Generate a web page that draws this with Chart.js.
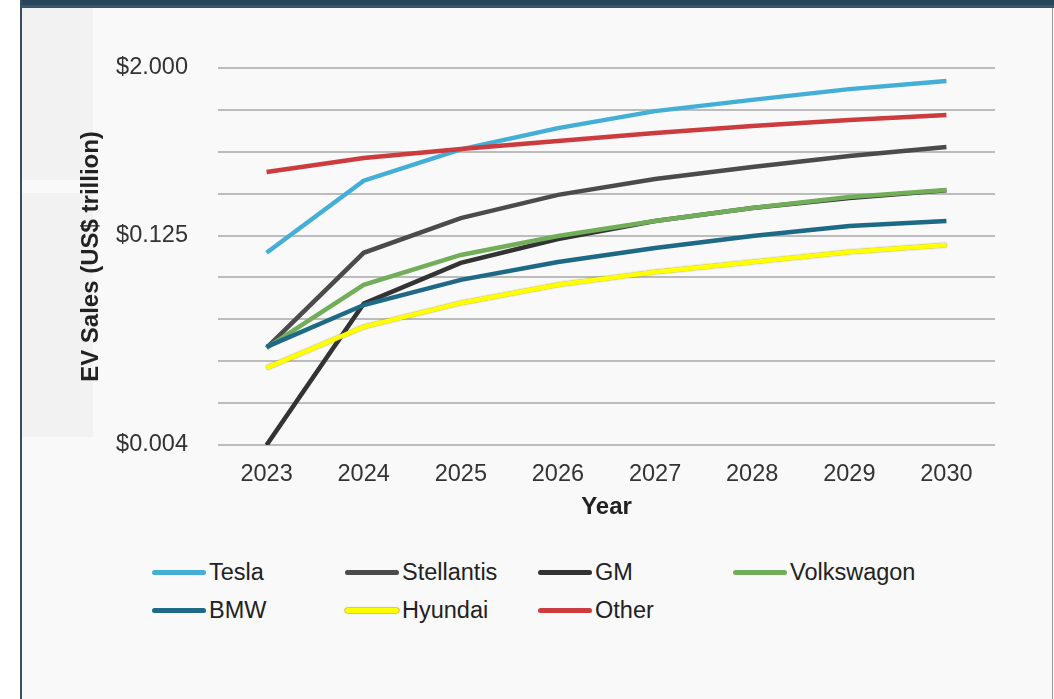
<!DOCTYPE html>
<html>
<head>
<meta charset="utf-8">
<script src="https://cdn.jsdelivr.net/npm/chart.js@4/dist/chart.umd.min.js"></script>
<style>
  body { margin: 0; background: #fff; font-family: 'Liberation Sans', Arial, sans-serif; }
  #frame { position: absolute; left: 20px; top: 0; width: 1034px; height: 699px; background: #f9f9f9; }
  #topband { position: absolute; left: 20px; top: 0; width: 1034px; height: 5px; background: #27465a; }
  #topband2 { position: absolute; left: 20px; top: 5px; width: 1034px; height: 3px; background: #3b5667; }
  #leftbar { position: absolute; left: 20px; top: 0; width: 2px; height: 699px; background: #3a4d5c; }
  #rightbar { position: absolute; left: 1052px; top: 8px; width: 1px; height: 691px; background: #9a9a9a; }
  .pane { position: absolute; left: 22px; width: 71px; background: #f2f2f2; }
  #wrap { position: absolute; left: 22px; top: 8px; width: 1030px; height: 520px; }
  #legend { position: absolute; left: 0; top: 0; }
  .li { position: absolute; display: flex; align-items: center; height: 26px; font-size: 23.5px; color: #222; }
  .li span.sw { display: inline-block; width: 54px; height: 5px; border-radius: 3px; margin-right: 3px; }
</style>
</head>
<body>
<div id="frame"></div>
<div class="pane" style="top:8px;height:172px"></div>
<div class="pane" style="top:193px;height:244px"></div>
<div id="topband"></div>
<div id="topband2"></div>
<div id="leftbar"></div>
<div id="rightbar"></div>
<div id="wrap"><canvas id="evChart"></canvas></div>
<div id="legend"></div>
<script>
// data (US$ trillion, log2 axis)
const years = ['2023', '2024', '2025', '2026', '2027', '2028', '2029', '2030'];
const tesla = [0.094, 0.31, 0.52, 0.74, 0.98, 1.18, 1.41, 1.61];
const stellantis = [0.0195, 0.094, 0.167, 0.245, 0.319, 0.389, 0.467, 0.541];
const gm = [0.0039, 0.0405, 0.0795, 0.118, 0.159, 0.197, 0.233, 0.264];
const volkswagon = [0.0195, 0.0553, 0.0907, 0.124, 0.159, 0.197, 0.237, 0.266];
const bmw = [0.0198, 0.0396, 0.060, 0.0808, 0.1017, 0.124, 0.1466, 0.159];
const hyundai = [0.014, 0.0276, 0.041, 0.0553, 0.0684, 0.0808, 0.0952, 0.107];
const other = [0.358, 0.451, 0.524, 0.598, 0.682, 0.766, 0.846, 0.919];

const tickExps = [1, 0, -1, -2, -3, -4, -5, -6, -7, -8];
const labelExps = [1, -3, -8];

const series = [
  { label: 'Tesla', data: tesla, color: '#43aed6' },
  { label: 'Stellantis', data: stellantis, color: '#4b4b4b' },
  { label: 'GM', data: gm, color: '#333333' },
  { label: 'Volkswagon', data: volkswagon, color: '#72ad5a' },
  { label: 'BMW', data: bmw, color: '#1e6a86' },
  { label: 'Hyundai', data: hyundai, color: '#ffff00' },
  { label: 'Other', data: other, color: '#cc3b3e' }
];

const FONT = "'Liberation Sans', Arial, sans-serif";

// give the yellow line a thin dark edge like the original
const edgePlugin = {
  id: 'edge',
  beforeDatasetDraw(chart, args) {
    const ds = chart.data.datasets[args.index];
    chart.ctx.save();
    if (ds.label === 'Hyundai') {
      chart.ctx.shadowColor = 'rgba(110,110,0,0.7)';
      chart.ctx.shadowBlur = 1.5;
    }
  },
  afterDatasetDraw(chart) {
    chart.ctx.restore();
  }
};

new Chart(document.getElementById('evChart'), {
  type: 'line',
  data: {
    labels: years,
    datasets: series.map((s, i) => ({
      label: s.label, data: s.data, borderColor: s.color, backgroundColor: s.color,
      borderWidth: 4.5, pointRadius: 0, tension: 0, fill: false, order: -i
    }))
  },
  options: {
    responsive: true, maintainAspectRatio: false, animation: false,
    layout: { padding: { top: 60, right: 57, bottom: 0, left: 0 } },
    plugins: { legend: { display: false }, tooltip: { enabled: false } },
    scales: {
      x: {
        offset: true,
        grid: { display: false },
        border: { display: false },
        ticks: { color: '#333', padding: 7, font: { family: FONT, size: 23.5 } },
        title: { display: true, text: 'Year', color: '#222', padding: { top: 0, bottom: 6 }, font: { family: FONT, size: 24, weight: 'bold' } },
        afterFit: (s) => { s.height = 83; }
      },
      y: {
        type: 'logarithmic',
        min: Math.pow(2, -8), max: 2,
        afterBuildTicks: (s) => { s.ticks = tickExps.map(n => ({ value: Math.pow(2, n) })); },
        grid: { color: '#bcbcbc', lineWidth: 2, drawTicks: false },
        border: { display: false },
        ticks: {
          color: '#333', padding: 30, autoSkip: false, font: { family: FONT, size: 23.5 },
          callback: (v) => {
            const n = Math.round(Math.log2(v));
            return labelExps.includes(n) ? '$' + v.toFixed(3) : '';
          }
        },
        title: { display: true, text: 'EV Sales (US$ trillion)', color: '#222', padding: { top: 55, bottom: 0 }, font: { family: FONT, size: 24, weight: 'bold' } },
        afterFit: (s) => { s.width = 196; }
      }
    }
  },
  plugins: [edgePlugin]
});

// html legend in a fixed grid
const legendEl = document.getElementById('legend');
const colX = [152, 345, 538, 733];
const rowY = [572, 610];
series.forEach((s, i) => {
  const it = document.createElement('div');
  it.className = 'li';
  it.style.left = colX[i % 4] + 'px';
  it.style.top = (rowY[Math.floor(i / 4)] - 13) + 'px';
  const sw = document.createElement('span');
  sw.className = 'sw';
  sw.style.background = s.color;
  if (s.label === 'Hyundai') sw.style.boxShadow = '0 0 1px 0.5px rgba(110,110,0,0.7)';
  it.appendChild(sw);
  it.appendChild(document.createTextNode(s.label));
  legendEl.appendChild(it);
});
</script>
</body>
</html>
